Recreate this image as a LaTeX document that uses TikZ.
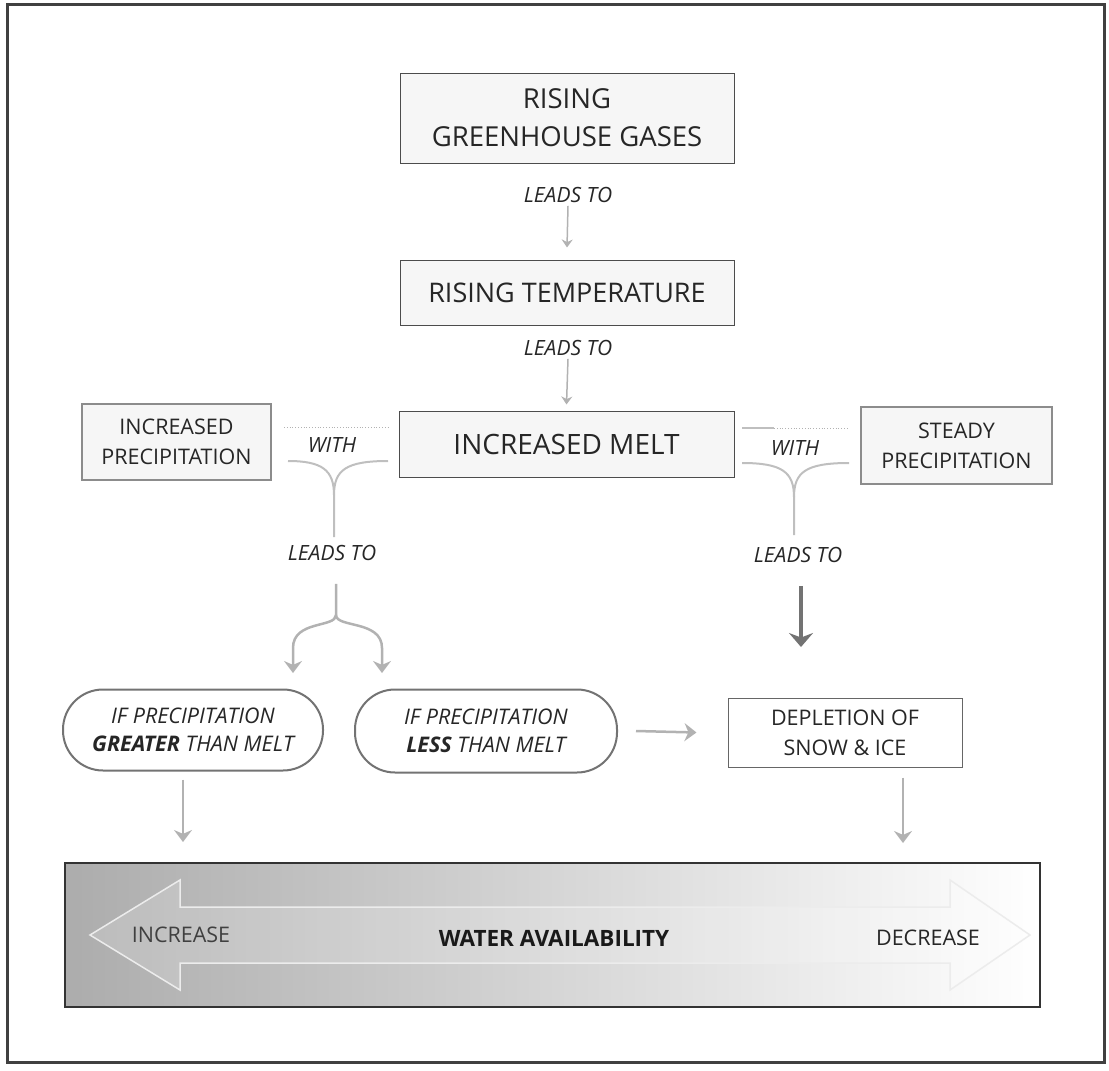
\documentclass[tikz,border=0pt]{standalone}
\usepackage{fontspec}
\setmainfont{Open Sans}
\usetikzlibrary{arrows.meta}

\begin{document}
\begin{tikzpicture}[x=1pt, y=-1pt,
  box/.style={draw=black!70, fill=gray!7, line width=1pt, text=black!85, align=center, inner sep=0pt},
  sidebox/.style={box, draw=black!45, line width=2.5pt},
  oval/.style={draw=black!55, line width=2pt, rounded corners=40pt, fill=white, align=center, inner sep=0pt, text=black!85},
  lbl/.style={font=\fontsize{21}{24}\selectfont\itshape, text=black!85, inner sep=0pt},
  thinarr/.style={draw=gray!60, line width=1.5pt, -{Stealth[length=8pt,width=11pt]}},
  midarr/.style={draw=gray!60, line width=2.5pt, -{Stealth[length=12pt,width=18pt]}},
  bigarr/.style={draw=black!55, line width=3.5pt, -{Stealth[length=14pt,width=24pt]}},
  brace/.style={draw=gray!50, line width=2pt},
  dots/.style={draw=gray!60, dotted, line width=0.8pt}]
  \useasboundingbox (0,0) rectangle (1109,1071);
  \coordinate (dl1) at (284,427);
  \coordinate (dl2) at (388,427);
  \coordinate (bl) at (288,461);
  \coordinate (br) at (388,461);
  \coordinate (bm) at (334,495);
  \coordinate (bd) at (334,537);
  \coordinate (ds0) at (742,428);
  \coordinate (ds1) at (774,428);
  \coordinate (ds2) at (849,428);
  \coordinate (cl) at (742,463);
  \coordinate (cr) at (849,463);
  \coordinate (cm) at (794,497);
  \coordinate (cd) at (794,535);
  \coordinate (sj) at (336,615);
  \coordinate (sl) at (293,673);
  \coordinate (sr) at (382,673);
  \coordinate (rend) at (801,647);
  \coordinate (gend) at (183,842);
  \coordinate (dend) at (903,843);
  \draw[line width=3pt, black!75] (7,4) rectangle (1104,1062);
  \node[box, minimum width=334pt, minimum height=90pt, font=\fontsize{27.5}{38}\selectfont] (ghg) at (567,118) {RISING\\GREENHOUSE GASES};
  \node[lbl] (lt1) at (568,195) {LEADS TO};
  \node[box, minimum width=334pt, minimum height=65pt, font=\fontsize{27}{30}\selectfont] (temp) at (567,292.5) {RISING TEMPERATURE};
  \node[lbl] (lt2) at (568,348) {LEADS TO};
  \node[box, minimum width=335pt, minimum height=66pt, font=\fontsize{28}{32}\selectfont] (melt) at (566.5,444) {INCREASED MELT};
  \node[sidebox, minimum width=189pt, minimum height=76pt, font=\fontsize{21.5}{30}\selectfont] (ip) at (176.5,442) {INCREASED\\PRECIPITATION};
  \node[sidebox, minimum width=191pt, minimum height=77pt, font=\fontsize{21.5}{30}\selectfont] (sp) at (956.5,445.5) {STEADY\\PRECIPITATION};
  \node[lbl] (w1) at (332,445) {WITH};
  \node[lbl] (w2) at (795,448) {WITH};
  \node[lbl] (lt3) at (332,553) {LEADS TO};
  \node[lbl] (lt4) at (798,555) {LEADS TO};
  \node[oval, minimum width=260pt, minimum height=81pt, font=\fontsize{21.5}{28}\selectfont\itshape] (gtr) at (193,730) {IF PRECIPITATION\\\textbf{GREATER} THAN MELT};
  \node[oval, minimum width=262pt, minimum height=83pt, font=\fontsize{21.5}{28}\selectfont\itshape] (less) at (486,731) {IF PRECIPITATION\\\textbf{LESS} THAN MELT};
  \node[box, draw=black!60, fill=white, minimum width=234pt, minimum height=69pt, font=\fontsize{21.5}{30}\selectfont] (dep) at (845,732.5) {DEPLETION OF\\SNOW \& ICE};
  \node[draw=black!80, line width=2pt, minimum width=975pt, minimum height=144pt, left color=gray!65, middle color=gray!28, right color=white, inner sep=0pt] (bar) at (552.5,935) {};
  \filldraw[draw=white!85!gray, fill=white, fill opacity=0.18, line width=1.5pt] (90,935) -- (180,880) -- (180,907) -- (950,907) -- (950,880) -- (1030,935) -- (950,990) -- (950,963) -- (180,963) -- (180,990) -- cycle;
  \node[font=\fontsize{21.5}{26}\selectfont, text=black!75] (inc) at (181,935) {INCREASE};
  \node[font=\fontsize{22.5}{26}\selectfont\bfseries, text=black!90] (water) at (554,938) {WATER AVAILABILITY};
  \node[font=\fontsize{21.5}{26}\selectfont, text=black!85] (dec) at (928,938) {DECREASE};
  \draw[thinarr] ([yshift=-3pt]lt1.south) -- ([yshift=12pt]temp.north);
  \draw[thinarr] ([yshift=-3pt]lt2.south) -- ([yshift=6pt]melt.north);
  \draw[dots] (dl1) -- (dl2);
  \draw[brace] (bl) .. controls (322,461) and (334,470) .. (bm) -- (bd);
  \draw[brace] (br) .. controls (346,461) and (334,470) .. (bm);
  \draw[brace] (ds0) -- (ds1);
  \draw[dots] (ds1) -- (ds2);
  \draw[brace] (cl) .. controls (782,463) and (794,472) .. (cm) -- (cd);
  \draw[brace] (cr) .. controls (806,463) and (794,472) .. (cm);
  \draw[midarr] ([xshift=4pt,yshift=-23pt]lt3.south) -- (sj) .. controls (336,628) and (293,620) .. (293,648) -- (sl);
  \draw[midarr] (sj) .. controls (336,628) and (382,620) .. (382,648) -- (sr);
  \draw[bigarr] ([xshift=3pt,yshift=-23pt]lt4.south) -- (rend);
  \draw[midarr] ([xshift=18pt]less.east) -- ([xshift=-31pt]dep.west);
  \draw[midarr] ([xshift=-10pt,yshift=-8pt]gtr.south) -- (gend);
  \draw[midarr] ([xshift=58pt,yshift=-10pt]dep.south) -- (dend);
\end{tikzpicture}
\end{document}
